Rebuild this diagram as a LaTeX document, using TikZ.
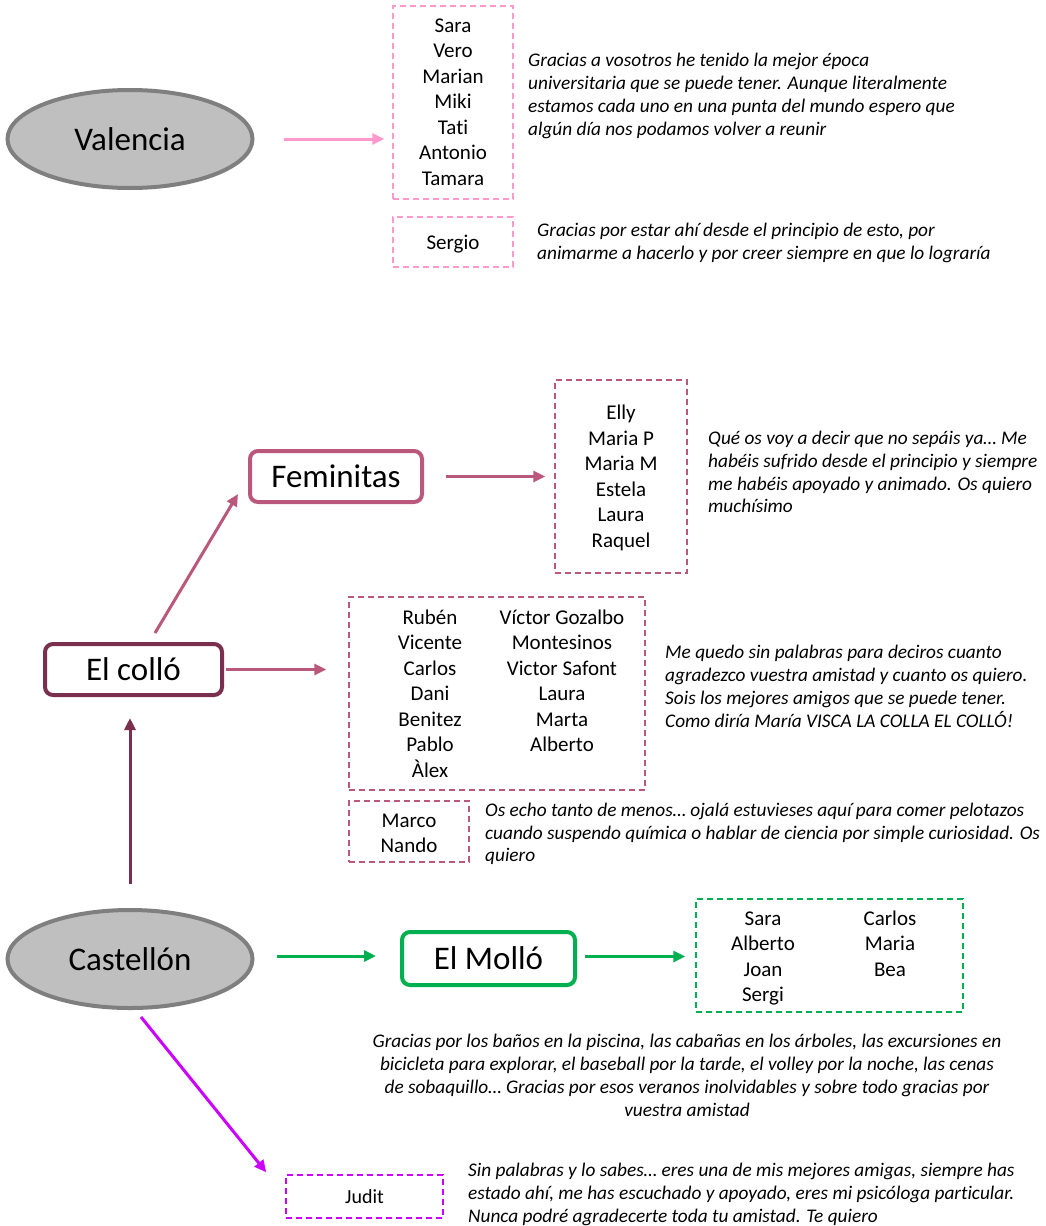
\documentclass[tikz,border=0pt]{standalone}
\usepackage{fontspec}
\setmainfont{Carlito}[Ligatures=NoCommon]
\usetikzlibrary{arrows.meta,shapes.geometric}
\definecolor{cityfill}{HTML}{BFBFBF}
\definecolor{cityline}{HTML}{7F7F7F}
\definecolor{rosa}{HTML}{FF99CC}
\definecolor{malva}{HTML}{B9587A}
\definecolor{granate}{HTML}{7A2F4F}
\definecolor{verde}{HTML}{00B050}
\definecolor{morado}{HTML}{CC00FF}
\tikzset{
  bigtext/.style={font=\fontsize{33}{40}\selectfont},
  city/.style={ellipse, fill=cityfill, draw=cityline, line width=4pt,
    minimum width=245pt, minimum height=98pt, inner sep=0pt, bigtext},
  group/.style={rectangle, rounded corners=8pt, line width=4pt, inner sep=0pt, bigtext},
  listbox/.style={rectangle, draw=#1, line width=1.4pt, dash pattern=on 6pt off 4pt,
    inner sep=0pt},
  names/.style={align=center, inner sep=0pt, font=\fontsize{21}{25.5}\selectfont},
  quote/.style={align=left, anchor=west, inner sep=0pt,
    font=\fontsize{19.3}{22.8}\selectfont\itshape},
  link/.style={line width=3pt, -{Triangle[length=12pt,width=11pt]}},
}
\begin{document}
\begin{tikzpicture}[x=1pt,y=-1pt]
\useasboundingbox[fill=white] (0,0) rectangle (1045,1226);

% Valencia branch
\node[city] (valencia) at (130,139) {Valencia};
\node[listbox=rosa, minimum width=120pt, minimum height=193pt] (valbox) at (453,102.5) {};
\node[names] (valnames) at (453,102) {Sara\\Vero\\Marian\\Miki\\Tati\\Antonio\\Tamara};
\node[listbox=rosa, minimum width=120pt, minimum height=50pt] (sergiobox) at (453,242) {};
\node[names] (sergio) at (453,244) {Sergio};
\node[quote] (qval) at (528,96) {Gracias a vosotros he tenido la mejor época\\
  universitaria que se puede tener. Aunque literalmente\\
  estamos cada uno en una punta del mundo espero que\\
  algún día nos podamos volver a reunir};
\node[quote] (qsergio) at (537,243) {Gracias por estar ahí desde el principio de esto, por\\
  animarme a hacerlo y por creer siempre en que lo lograría};
\draw[link, rosa, shorten <=29pt, shorten >=8pt] (valencia.east) -- (valencia.east -| valbox.west);

% Castellón and its groups
\node[city] (castellon) at (130,959) {Castellón};
\node[group, draw=granate, minimum width=177pt, minimum height=51pt] (collo) at (133.5,669.5) {El colló};
\node[group, draw=malva, minimum width=172pt, minimum height=51pt] (feminitas) at (336,476.5) {Feminitas};
\node[group, draw=verde, minimum width=173pt, minimum height=53pt] (mollo) at (488.5,958.5) {El Molló};

% Feminitas
\node[listbox=malva, minimum width=132pt, minimum height=193pt] (fembox) at (621,476.5) {};
\node[names] (femnames) at (621,478) {Elly\\Maria P\\Maria M\\Estela\\Laura\\Raquel};
\node[quote] (qfem) at (708,472) {Qué os voy a decir que no sepáis ya… Me\\
  habéis sufrido desde el principio y siempre\\
  me habéis apoyado y animado. Os quiero\\
  muchísimo};

% El colló
\node[listbox=malva, minimum width=296pt, minimum height=193pt] (collobox) at (497,693.5) {};
\node[names] (colloleft) at (430,693.5) {Rubén\\Vicente\\Carlos\\Dani\\Benitez\\Pablo\\Àlex};
\node[names] (colloright) at (562,681) {Víctor Gozalbo\\Montesinos\\Victor Safont\\Laura\\Marta\\Alberto};
\node[quote] (qcollo) at (665,686.5) {Me quedo sin palabras para deciros cuanto\\
  agradezco vuestra amistad y cuanto os quiero.\\
  Sois los mejores amigos que se puede tener.\\
  Como diría María VISCA LA COLLA EL COLLÓ!};
\node[listbox=malva, minimum width=120pt, minimum height=61pt] (marcobox) at (409,831.5) {};
\node[names] (marco) at (409,833.5) {Marco\\Nando};
\node[quote] (qmarco) at (485,834) {Os echo tanto de menos… ojalá estuvieses aquí para comer pelotazos\\
  cuando suspendo química o hablar de ciencia por simple curiosidad. Os\\
  quiero};

% El Molló
\node[listbox=verde, minimum width=267pt, minimum height=113pt] (mollobox) at (829.5,955.5) {};
\node[names] (molloleft) at (763,958.5) {Sara\\Alberto\\Joan\\Sergi};
\node[names] (molloright) at (890,943.5) {Carlos\\Maria\\Bea};
\node[quote, anchor=center, align=center] (qmollo) at (687,1075.5) {Gracias por los baños en la piscina, las cabañas en los árboles, las excursiones en\\
  bicicleta para explorar, el baseball por la tarde, el volley por la noche, las cenas\\
  de sobaquillo… Gracias por esos veranos inolvidables y sobre todo gracias por\\
  vuestra amistad};

% Judit
\node[listbox=morado, minimum width=157pt, minimum height=43pt] (juditbox) at (364.5,1196.5) {};
\node[names, font=\fontsize{20}{24}\selectfont] (judit) at (364.5,1197) {Judit};
\node[quote] (qjudit) at (468,1194.5) {Sin palabras y lo sabes… eres una de mis mejores amigas, siempre has\\
  estado ahí, me has escuchado y apoyado, eres mi psicóloga particular.\\
  Nunca podré agradecerte toda tu amistad. Te quiero};

% connectors
\draw[link, granate, shorten <=24pt, shorten >=21pt] (castellon.north) -- (castellon.north |- collo.south);
\draw[link, malva] ([xshift=21.5pt,yshift=9pt]collo.north) -- ([xshift=-10pt,yshift=10pt]feminitas.south west);
\draw[link, malva, shorten <=22pt, shorten >=9pt] (feminitas.east) -- (feminitas.east -| fembox.west);
\draw[link, malva, shorten <=2pt, shorten >=22pt] (collo.east) -- (collo.east -| collobox.west);
\draw[link, verde, shorten <=22.5pt, shorten >=24pt] ([yshift=3pt]castellon.east) -- ([yshift=3pt]castellon.east -| mollo.west);
\draw[link, verde, shorten <=8pt, shorten >=10pt] ([yshift=2pt]mollo.east) -- ([yshift=2pt]mollo.east -| mollobox.west);
\draw[link, morado] ([xshift=11pt,yshift=-7pt]castellon.south) -- ([xshift=-19pt,yshift=2pt]juditbox.north west);
\end{tikzpicture}
\end{document}
